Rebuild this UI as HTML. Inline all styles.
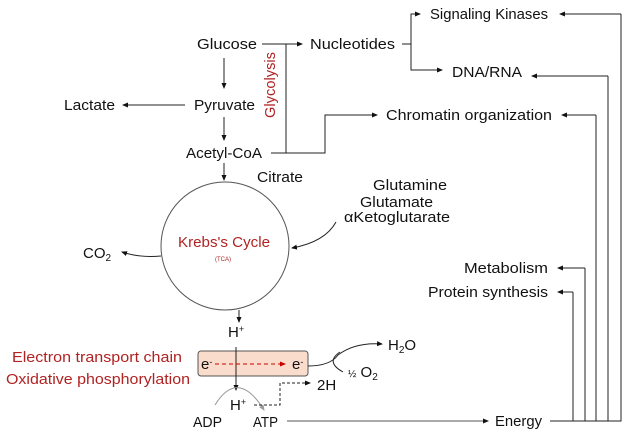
<!DOCTYPE html>
<html><head><meta charset="utf-8"><style>
body{margin:0;background:#fff}
svg{display:block}
text{font-family:"Liberation Sans",sans-serif;font-size:15px;fill:#111}
.r{fill:#b22222}
</style></head><body>
<svg width="634" height="439" viewBox="0 0 634 439" xmlns="http://www.w3.org/2000/svg">
<defs>
<marker id="a" markerWidth="6" markerHeight="6" refX="5" refY="3" orient="auto" markerUnits="userSpaceOnUse"><path d="M0,0.5 L6,3 L0,5.5z" fill="#111"/></marker>
<marker id="ar" markerWidth="6" markerHeight="6" refX="5" refY="3" orient="auto" markerUnits="userSpaceOnUse"><path d="M0,0.5 L6,3 L0,5.5z" fill="#c00"/></marker>
<marker id="ag" markerWidth="6" markerHeight="6" refX="5" refY="3" orient="auto" markerUnits="userSpaceOnUse"><path d="M0,0.5 L6,3 L0,5.5z" fill="#999"/></marker>
</defs>
<g stroke="#222" stroke-width="1" fill="none">
<path d="M262,44 H302" marker-end="url(#a)"/>
<path d="M286,44 V153 H271"/>
<path d="M286,153 H325 V115 H377" marker-end="url(#a)"/>
<path d="M402,44 H411 V14 H420" marker-end="url(#a)"/>
<path d="M411,44 V70 H442" marker-end="url(#a)"/>
<path d="M224,58 V88" marker-end="url(#a)"/>
<path d="M224,117 V140" marker-end="url(#a)"/>
<path d="M185,105 H123" marker-end="url(#a)"/>
<path d="M224,163 V180" marker-end="url(#a)"/>
<circle cx="225" cy="246" r="64" stroke="#555"/>
<path d="M336,222 Q325,242 292,248" marker-end="url(#a)"/>
<path d="M161,256 Q140,258 122,252" marker-end="url(#a)"/>
<path d="M239,310 V322" marker-end="url(#a)"/>
<path d="M621,14 V421 H550"/>
<path d="M621,14 H560" marker-end="url(#a)"/>
<path d="M608,76 V421"/><path d="M608,76 H532" marker-end="url(#a)"/>
<path d="M596,115 V421"/><path d="M596,115 H562" marker-end="url(#a)"/>
<path d="M585,268 V421"/><path d="M585,268 H558" marker-end="url(#a)"/>
<path d="M573,292 V421"/><path d="M573,292 H558" marker-end="url(#a)"/>
<path d="M287,421 H488" stroke="#555" marker-end="url(#a)"/>
<rect x="198" y="351" width="110" height="25" rx="3" fill="#f9dccb" stroke="#555"/>
<path d="M236,347 V390" marker-end="url(#a)"/>
<path d="M215,405 Q238,368 264,410" stroke="#999" marker-end="url(#ag)"/>
<path d="M254,405 H280 V383 H310" stroke-dasharray="3,2" marker-end="url(#a)"/>
<path d="M308,366 Q330,366 338,355 Q355,342 382,344" marker-end="url(#a)"/>
<path d="M343,372 Q325,362 340,352"/>
</g>
<path d="M215,364 H285" stroke="#c00" stroke-dasharray="4,3" fill="none" marker-end="url(#ar)"/>
<g lengthAdjust="spacingAndGlyphs">
<text x="197" y="49" textLength="60" lengthAdjust="spacingAndGlyphs">Glucose</text>
<text x="310" y="49" textLength="85" lengthAdjust="spacingAndGlyphs">Nucleotides</text>
<text x="430" y="19" textLength="118" lengthAdjust="spacingAndGlyphs">Signaling Kinases</text>
<text x="452" y="77" textLength="70" lengthAdjust="spacingAndGlyphs">DNA/RNA</text>
<text x="386" y="120" textLength="166" lengthAdjust="spacingAndGlyphs">Chromatin organization</text>
<text x="64" y="110" textLength="51" lengthAdjust="spacingAndGlyphs">Lactate</text>
<text x="194" y="110" textLength="61" lengthAdjust="spacingAndGlyphs">Pyruvate</text>
<text x="186" y="158" textLength="76" lengthAdjust="spacingAndGlyphs">Acetyl-CoA</text>
<text x="257" y="182" textLength="46" lengthAdjust="spacingAndGlyphs">Citrate</text>
<text x="373" y="190" textLength="74" lengthAdjust="spacingAndGlyphs">Glutamine</text>
<text x="360" y="207" textLength="73" lengthAdjust="spacingAndGlyphs">Glutamate</text>
<text x="344" y="222" textLength="106" lengthAdjust="spacingAndGlyphs">αKetoglutarate</text>
<text class="r" x="178" y="247" textLength="92" lengthAdjust="spacingAndGlyphs">Krebs's Cycle</text>
<text class="r" x="215" y="261" style="font-size:6px">(TCA)</text>
<text x="83" y="258">CO<tspan dy="3" font-size="10">2</tspan></text>
<text x="464" y="273" textLength="84" lengthAdjust="spacingAndGlyphs">Metabolism</text>
<text x="428" y="297" textLength="120" lengthAdjust="spacingAndGlyphs">Protein synthesis</text>
<text x="495" y="426" textLength="47" lengthAdjust="spacingAndGlyphs">Energy</text>
<text x="228" y="337">H<tspan dy="-5" font-size="9">+</tspan></text>
<text x="201" y="369">e<tspan dy="-4" font-size="9">-</tspan></text>
<text x="292" y="369">e<tspan dy="-4" font-size="9">-</tspan></text>
<text x="230" y="410">H<tspan dy="-5" font-size="9">+</tspan></text>
<text x="193" y="427" textLength="29" lengthAdjust="spacingAndGlyphs">ADP</text>
<text x="253" y="427" textLength="25" lengthAdjust="spacingAndGlyphs">ATP</text>
<text x="317" y="390">2H</text>
<text x="388" y="350">H<tspan dy="3" font-size="10">2</tspan><tspan dy="-3">O</tspan></text>
<text x="348" y="377"><tspan font-size="10">½</tspan> O<tspan dy="3" font-size="10">2</tspan></text>
<text class="r" x="12" y="362" textLength="170" lengthAdjust="spacingAndGlyphs">Electron transport chain</text>
<text class="r" x="6" y="384" textLength="184" lengthAdjust="spacingAndGlyphs">Oxidative phosphorylation</text>
<text class="r" transform="translate(275,118) rotate(-90)" textLength="66" lengthAdjust="spacingAndGlyphs">Glycolysis</text>
</g>
</svg>
</body></html>
